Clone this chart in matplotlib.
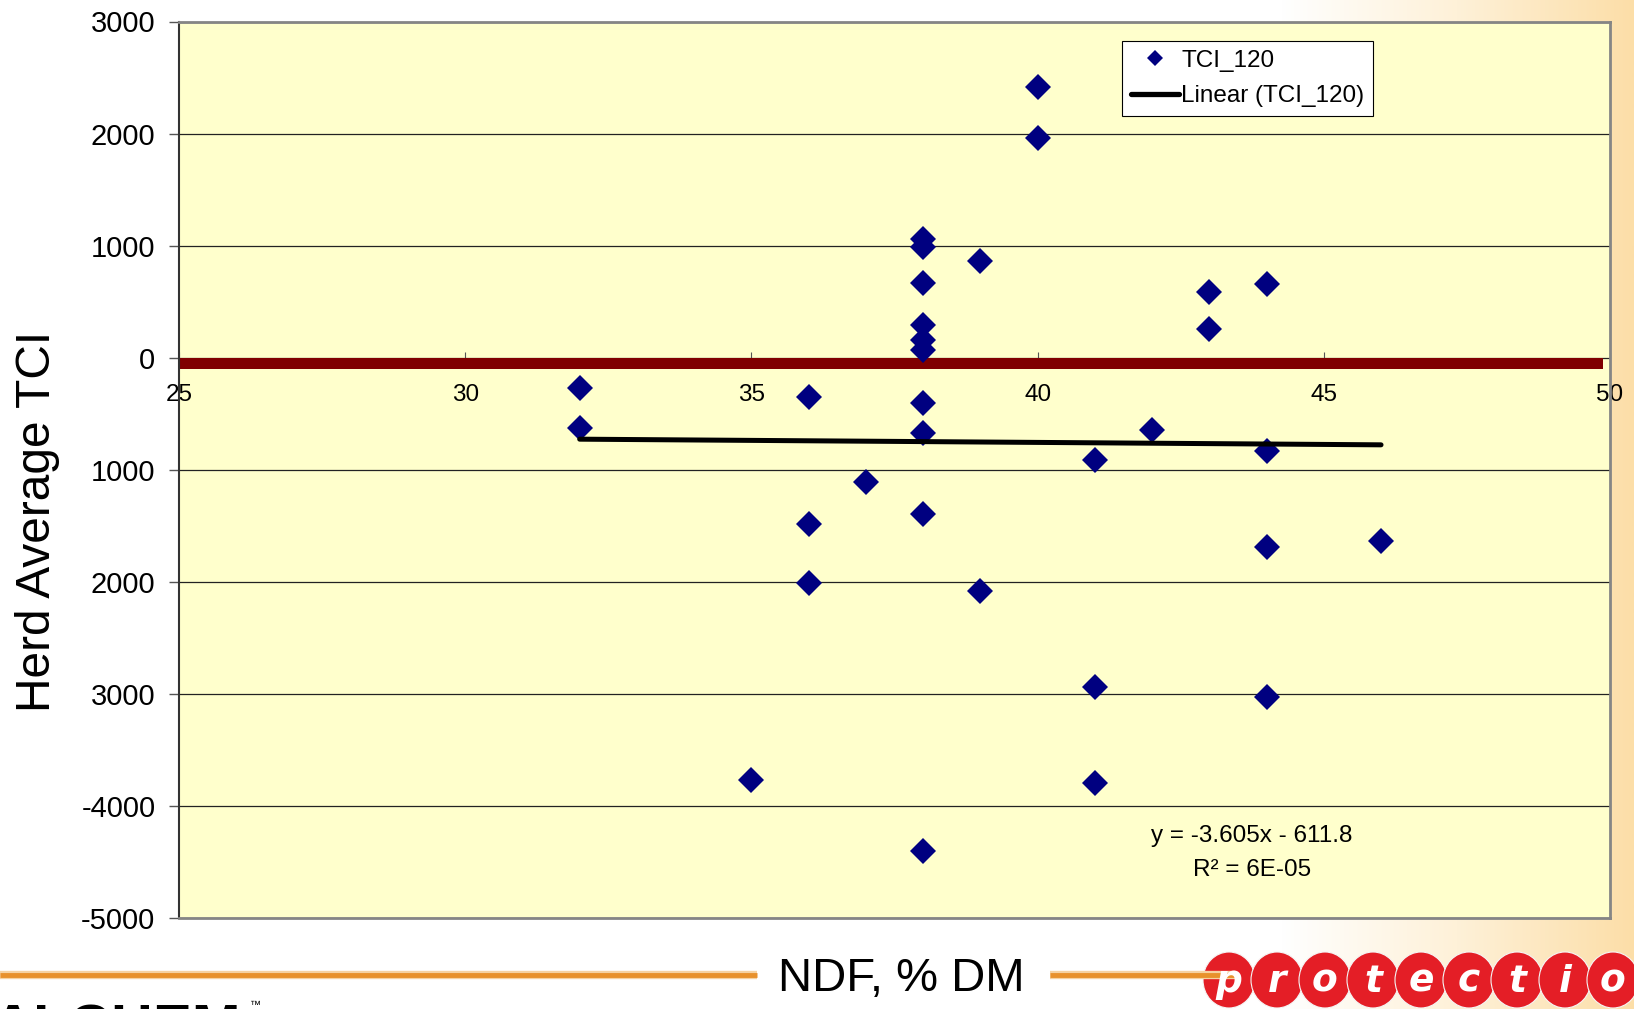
import numpy as np
import matplotlib
matplotlib.use("Agg")
import matplotlib.pyplot as plt
from matplotlib.lines import Line2D
from matplotlib.patches import Ellipse
from matplotlib.colors import LinearSegmentedColormap

plt.rcParams['font.family'] = ['Liberation Sans', 'DejaVu Sans']

# ---------------- data ----------------
ndf = [32, 32, 35, 36, 36, 36, 37, 38, 38, 38, 38, 38, 38, 38, 38, 38, 38,
       39, 39, 40, 40, 41, 41, 41, 42, 43, 43, 44, 44, 44, 44, 46]
tci = [-270, -623, -3773, -353, -1487, -2007, -1106, 1057, 986, 665, 290, 156,
       67, -406, -673, -1394, -4405, 861, -2082, 2416, 1961, -911, -2937, -3792,
       -641, 585, 260, 660, -836, -1691, -3030, -1636]
series_name = "TCI_120"
trend_slope = -3.605
trend_intercept = -611.8
r_squared = "6E-05"
xticks = [25, 30, 35, 40, 45, 50]
yticks = [3000, 2000, 1000, 0, -1000, -2000, -3000, -4000, -5000]
ytick_labels = ["3000", "2000", "1000", "0", "1000", "2000", "3000", "-4000", "-5000"]
zero_band = (-105, 0)
xlabel = "NDF, % DM"
ylabel = "Herd Average TCI"
logo_letters = "protectio"
logo_left = "ALCHEM"

# ---------------- figure ----------------
W, H = 1634, 1009
fig = plt.figure(figsize=(W / 100, H / 100), dpi=100)
fig.patch.set_facecolor('white')

bg = fig.add_axes([0, 0, 1, 1], zorder=0)
bg.axis('off')
grad = np.linspace(0, 1, 300).reshape(1, -1)
cmap = LinearSegmentedColormap.from_list('g', ['#FFFFFF', '#FEF1D8', '#FCDEA8'])
bg.imshow(grad, cmap=cmap, extent=[1280, W, H, 0], aspect='auto')
bg.set_xlim(0, W)
bg.set_ylim(H, 0)

# orange rule
for x0, x1 in [(0, 757), (1050, 1235)]:
    bg.plot([x0, x1], [975, 975], color='#F6D2A2', lw=6, solid_capstyle='butt')
    bg.plot([x0, x1], [975, 975], color='#E8912C', lw=3.5, solid_capstyle='butt')

# protectio logo
for i, ch in enumerate(logo_letters):
    cx = 1229 + 48 * i
    bg.add_patch(Ellipse((cx, 980), 52, 56, facecolor='#E41E26', edgecolor='#F5F5F5', lw=0.8))
    bg.text(cx, 982, ch, color='white', fontsize=27, fontweight='heavy',
            style='italic', ha='center', va='center', family='DejaVu Sans')

# ALCHEM logo (cut off at the bottom edge, as in the original slide)
bg.text(-8, 1003, logo_left, fontsize=42, fontweight='bold', ha='left', va='top', color='black')
bg.text(250, 1000, "\u2122", fontsize=8, ha='left', va='top', color='black')

# ---------------- main axes ----------------
ax = fig.add_axes([179 / W, 1 - 918 / H, (1610 - 179) / W, (918 - 21.5) / H], zorder=2)
ax.set_facecolor('#FFFFCC')
ymin, ymax = -5000, 3000
xmin, xmax = 25, 50
ax.set_xlim(xmin, xmax)
ax.set_ylim(ymin, ymax)

ax.set_yticks(yticks)
ax.set_yticklabels(ytick_labels, fontsize=21)
ax.tick_params(axis='y', direction='out', length=7, width=1, color='#555555', pad=10)
ax.tick_params(axis='x', bottom=False, labelbottom=False)
ax.yaxis.grid(True, color='#222222', lw=0.9)
ax.set_axisbelow(True)

for side in ['top', 'right', 'bottom']:
    ax.spines[side].set_color('#858585')
    ax.spines[side].set_linewidth(2)
ax.spines['left'].set_color('#333333')
ax.spines['left'].set_linewidth(1.5)

# zero band
ax.axhspan(zero_band[0], zero_band[1], xmin=0, xmax=0.995, color='#800000', lw=0, zorder=1.5)

# scatter
ax.plot(ndf, tci, ls='none', marker='D', markersize=13.5, color='#000080',
        markeredgewidth=0, zorder=3)

# trend line
tx = np.array([min(ndf), max(ndf)])
ax.plot(tx, trend_slope * tx + trend_intercept, color='black', lw=3.6,
        solid_capstyle='round', zorder=4)

# x axis at y=0
sec = ax.secondary_xaxis((0 - ymin) / (ymax - ymin))
sec.xaxis.set_ticks_position('bottom')
sec.set_xticks(xticks)
sec.set_xticklabels([str(t) for t in xticks], fontsize=17.5)
sec.tick_params(axis='x', direction='in', length=4, color='#555555', pad=19)
for s in sec.spines.values():
    s.set_visible(False)

# legend
handles = [Line2D([], [], ls='none', marker='D', markersize=8.5, color='#000080', markeredgewidth=0),
           Line2D([], [], color='black', lw=3.8, solid_capstyle='round')]
leg = ax.legend(handles, [series_name, f"Linear ({series_name})"], loc='upper left',
                bbox_to_anchor=(1122 / W, 1 - 41 / H), bbox_transform=fig.transFigure,
                fontsize=17.5, frameon=True, fancybox=False, edgecolor='black',
                framealpha=1, handlelength=2.0, handletextpad=0.08, borderpad=0.35,
                labelspacing=0.57, borderaxespad=0)
leg.get_frame().set_linewidth(0.8)
leg.set_zorder(10)

# trend equation
sign = '-' if trend_intercept < 0 else '+'
fig.text(1252 / W, 1 - 836 / H, f"y = {trend_slope}x {sign} {abs(trend_intercept)}",
         ha='center', va='center', fontsize=17.5, zorder=5)
fig.text(1252 / W, 1 - 870 / H, f"R\u00b2 = {r_squared}",
         ha='center', va='center', fontsize=17.5, zorder=5)

# axis labels
fig.text(901 / W, 1 - 979 / H, xlabel, ha='center', va='center', fontsize=34, zorder=5)
fig.text(38 / W, 1 - 521 / H, ylabel, ha='center', va='center', rotation=90,
         fontsize=34.5, zorder=5)

fig.savefig("out.png", dpi=100, facecolor=fig.get_facecolor())
